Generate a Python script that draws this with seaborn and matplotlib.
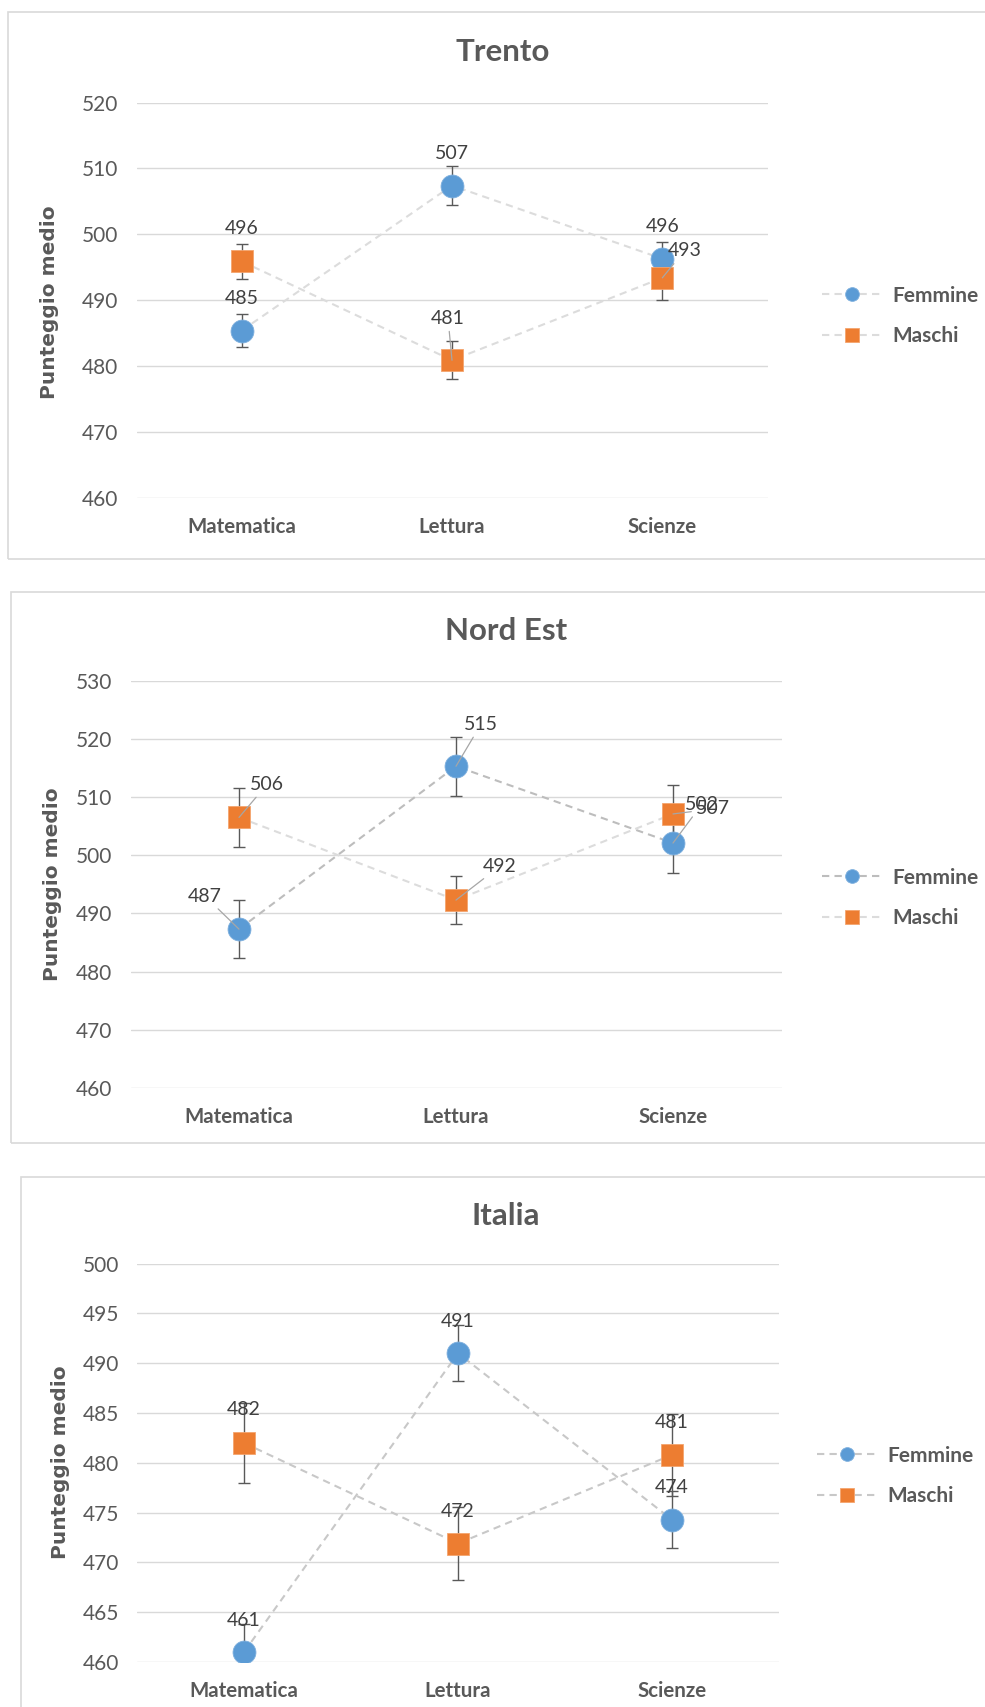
import numpy as np
import pandas as pd
import matplotlib
matplotlib.use("Agg")
import matplotlib.pyplot as plt
import seaborn as sns
from matplotlib.patches import Rectangle

# Data
categories = ["Matematica", "Lettura", "Scienze"]
series_names = ["Femmine", "Maschi"]

trento_f = [485.4, 507.4, 496.3]
trento_f_err = [2.5, 3.0, 2.5]
trento_m = [495.9, 480.9, 493.4]
trento_m_err = [2.7, 2.9, 3.4]

nordest_f = [487.3, 515.3, 502.1]
nordest_f_err = [5.0, 5.1, 5.1]
nordest_m = [506.5, 492.3, 507.1]
nordest_m_err = [5.1, 4.2, 4.9]

italia_f = [461.0, 491.0, 474.3]
italia_f_err = [2.8, 2.8, 2.9]
italia_m = [482.0, 471.9, 480.8]
italia_m_err = [4.0, 3.7, 4.1]

trento_ticks = [460, 470, 480, 490, 500, 510, 520]
nordest_ticks = [460, 470, 480, 490, 500, 510, 520, 530]
italia_ticks = [460, 465, 470, 475, 480, 485, 490, 495, 500]

W, H = 985, 1707
BLUE = "#5B9BD5"
ORANGE = "#ED7D31"
TXT = "#595959"

sns.set_theme(style="white")
plt.rcParams["font.family"] = ["Lato", "DejaVu Sans"]

fig = plt.figure(figsize=(W / 100, H / 100), dpi=100)
fig.patch.set_facecolor("white")


def px_axes(left, right, top, bottom):
    return fig.add_axes([left / W, 1 - bottom / H, (right - left) / W, (bottom - top) / H])


def draw_panel(ax, title, title_xy, ylab_xy, legend_xy, f, f_err, m, m_err, ticks,
               line_cols, f_offsets, m_offsets, leaders):
    x_pos = np.arange(len(categories))
    ax.errorbar(x_pos, f, yerr=f_err, fmt="none", ecolor=TXT, elinewidth=1.0,
                capsize=4.5, capthick=1.0, zorder=2)
    ax.errorbar(x_pos, m, yerr=m_err, fmt="none", ecolor=TXT, elinewidth=1.0,
                capsize=4.5, capthick=1.0, zorder=2)
    sns.lineplot(x=x_pos, y=f, ax=ax, sort=False, errorbar=None, color=line_cols[0],
                 linewidth=1.5, linestyle=(0, (3.5, 2.5)), marker="o", markersize=16.5,
                 markerfacecolor=BLUE, markeredgecolor="#7fb0de", markeredgewidth=0.6,
                 label=series_names[0], zorder=3)
    sns.lineplot(x=x_pos, y=m, ax=ax, sort=False, errorbar=None, color=line_cols[1],
                 linewidth=1.5, linestyle=(0, (3.5, 2.5)), marker="s", markersize=16,
                 markerfacecolor=ORANGE, markeredgecolor="#f4a46e", markeredgewidth=0.6,
                 label=series_names[1], zorder=3)

    # data labels
    for k, (vals, offs) in enumerate([(f, f_offsets), (m, m_offsets)]):
        for i, v in enumerate(vals):
            dx, dy = offs[i]
            arrow = None
            if (k, i) in leaders:
                arrow = dict(arrowstyle="-", color="#a6a6a6", lw=0.9, shrinkA=1, shrinkB=0)
            ax.annotate(f"{v:.0f}", xy=(i, v), xytext=(dx, dy), textcoords="offset pixels",
                        ha="center", va="center", fontsize=14, color="#404040",
                        arrowprops=arrow, zorder=5)

    ax.set_xlim(-0.5, len(categories) - 0.5)
    ax.set_ylim(ticks[0], ticks[-1])
    ax.set_yticks(ticks)
    ax.set_xticks(x_pos, categories)
    ax.yaxis.grid(True, color="#d9d9d9", linewidth=1.0)
    ax.set_axisbelow(True)
    sns.despine(ax=ax, left=True, bottom=True)
    ax.tick_params(axis="y", length=0, pad=13, labelsize=15, labelcolor=TXT)
    ax.tick_params(axis="x", length=0, pad=14, labelsize=14.8, labelcolor=TXT)
    for t in ax.get_xticklabels():
        t.set_fontweight("bold")
    ax.set_xlabel("")
    ax.set_ylabel("")

    fig.text(title_xy[0] / W, 1 - title_xy[1] / H, title, ha="center", va="center",
             fontsize=22.5, fontweight="bold", color=TXT)
    fig.text(ylab_xy[0] / W, 1 - ylab_xy[1] / H, "Punteggio medio", rotation=90,
             ha="center", va="center", fontsize=14.5, fontweight="bold", color=TXT,
             family="DejaVu Sans")

    leg = ax.legend(loc="center left", bbox_to_anchor=(legend_xy[0] / W, 1 - legend_xy[1] / H),
                    bbox_transform=fig.transFigure, frameon=False, borderpad=0,
                    borderaxespad=0, handlelength=2.9, handletextpad=0.5,
                    labelspacing=1.0, markerscale=0.6, fontsize=15)
    for t in leg.get_texts():
        t.set_fontweight("bold")
        t.set_color(TXT)


# panel frames
for (x0, y0, y1) in [(7.5, 12, 559), (10.5, 592, 1143), (20.5, 1177, 1760)]:
    fig.add_artist(Rectangle((x0 / W, 1 - y1 / H), (W + 50 - x0) / W, (y1 - y0) / H,
                             transform=fig.transFigure, fill=False,
                             edgecolor="#d9d9d9", linewidth=1.2))

ax1 = px_axes(136.5, 767.5, 102.5, 498)
draw_panel(ax1, "Trento", (503, 52), (50, 302), (822, 316),
           trento_f, trento_f_err, trento_m, trento_m_err, trento_ticks,
           ("#dcdcdc", "#dcdcdc"),
           [(0, 32), (0, 32), (0, 32)], [(0, 33), (-4, 42), (22, 27)],
           {(1, 1), (1, 2)})

ax2 = px_axes(130.5, 781.5, 680.7, 1088)
draw_panel(ax2, "Nord Est", (506, 631), (53, 884), (822, 898),
           nordest_f, nordest_f_err, nordest_m, nordest_m_err, nordest_ticks,
           ("#bdbdbd", "#dcdcdc"),
           [(-34, 33), (25, 42), (29, 39)], [(28, 33), (44, 34), (40, 5)],
           {(0, 0), (0, 1), (0, 2), (1, 0), (1, 1), (1, 2)})

ax3 = px_axes(137, 779, 1263.7, 1662)
draw_panel(ax3, "Italia", (506, 1216), (61, 1462), (817, 1476),
           italia_f, italia_f_err, italia_m, italia_m_err, italia_ticks,
           ("#c8c8c8", "#c8c8c8"),
           [(0, 32), (0, 32), (0, 32)], [(0, 33), (0, 32), (0, 32)],
           set())

fig.savefig("out.png", dpi=100, facecolor="white")
